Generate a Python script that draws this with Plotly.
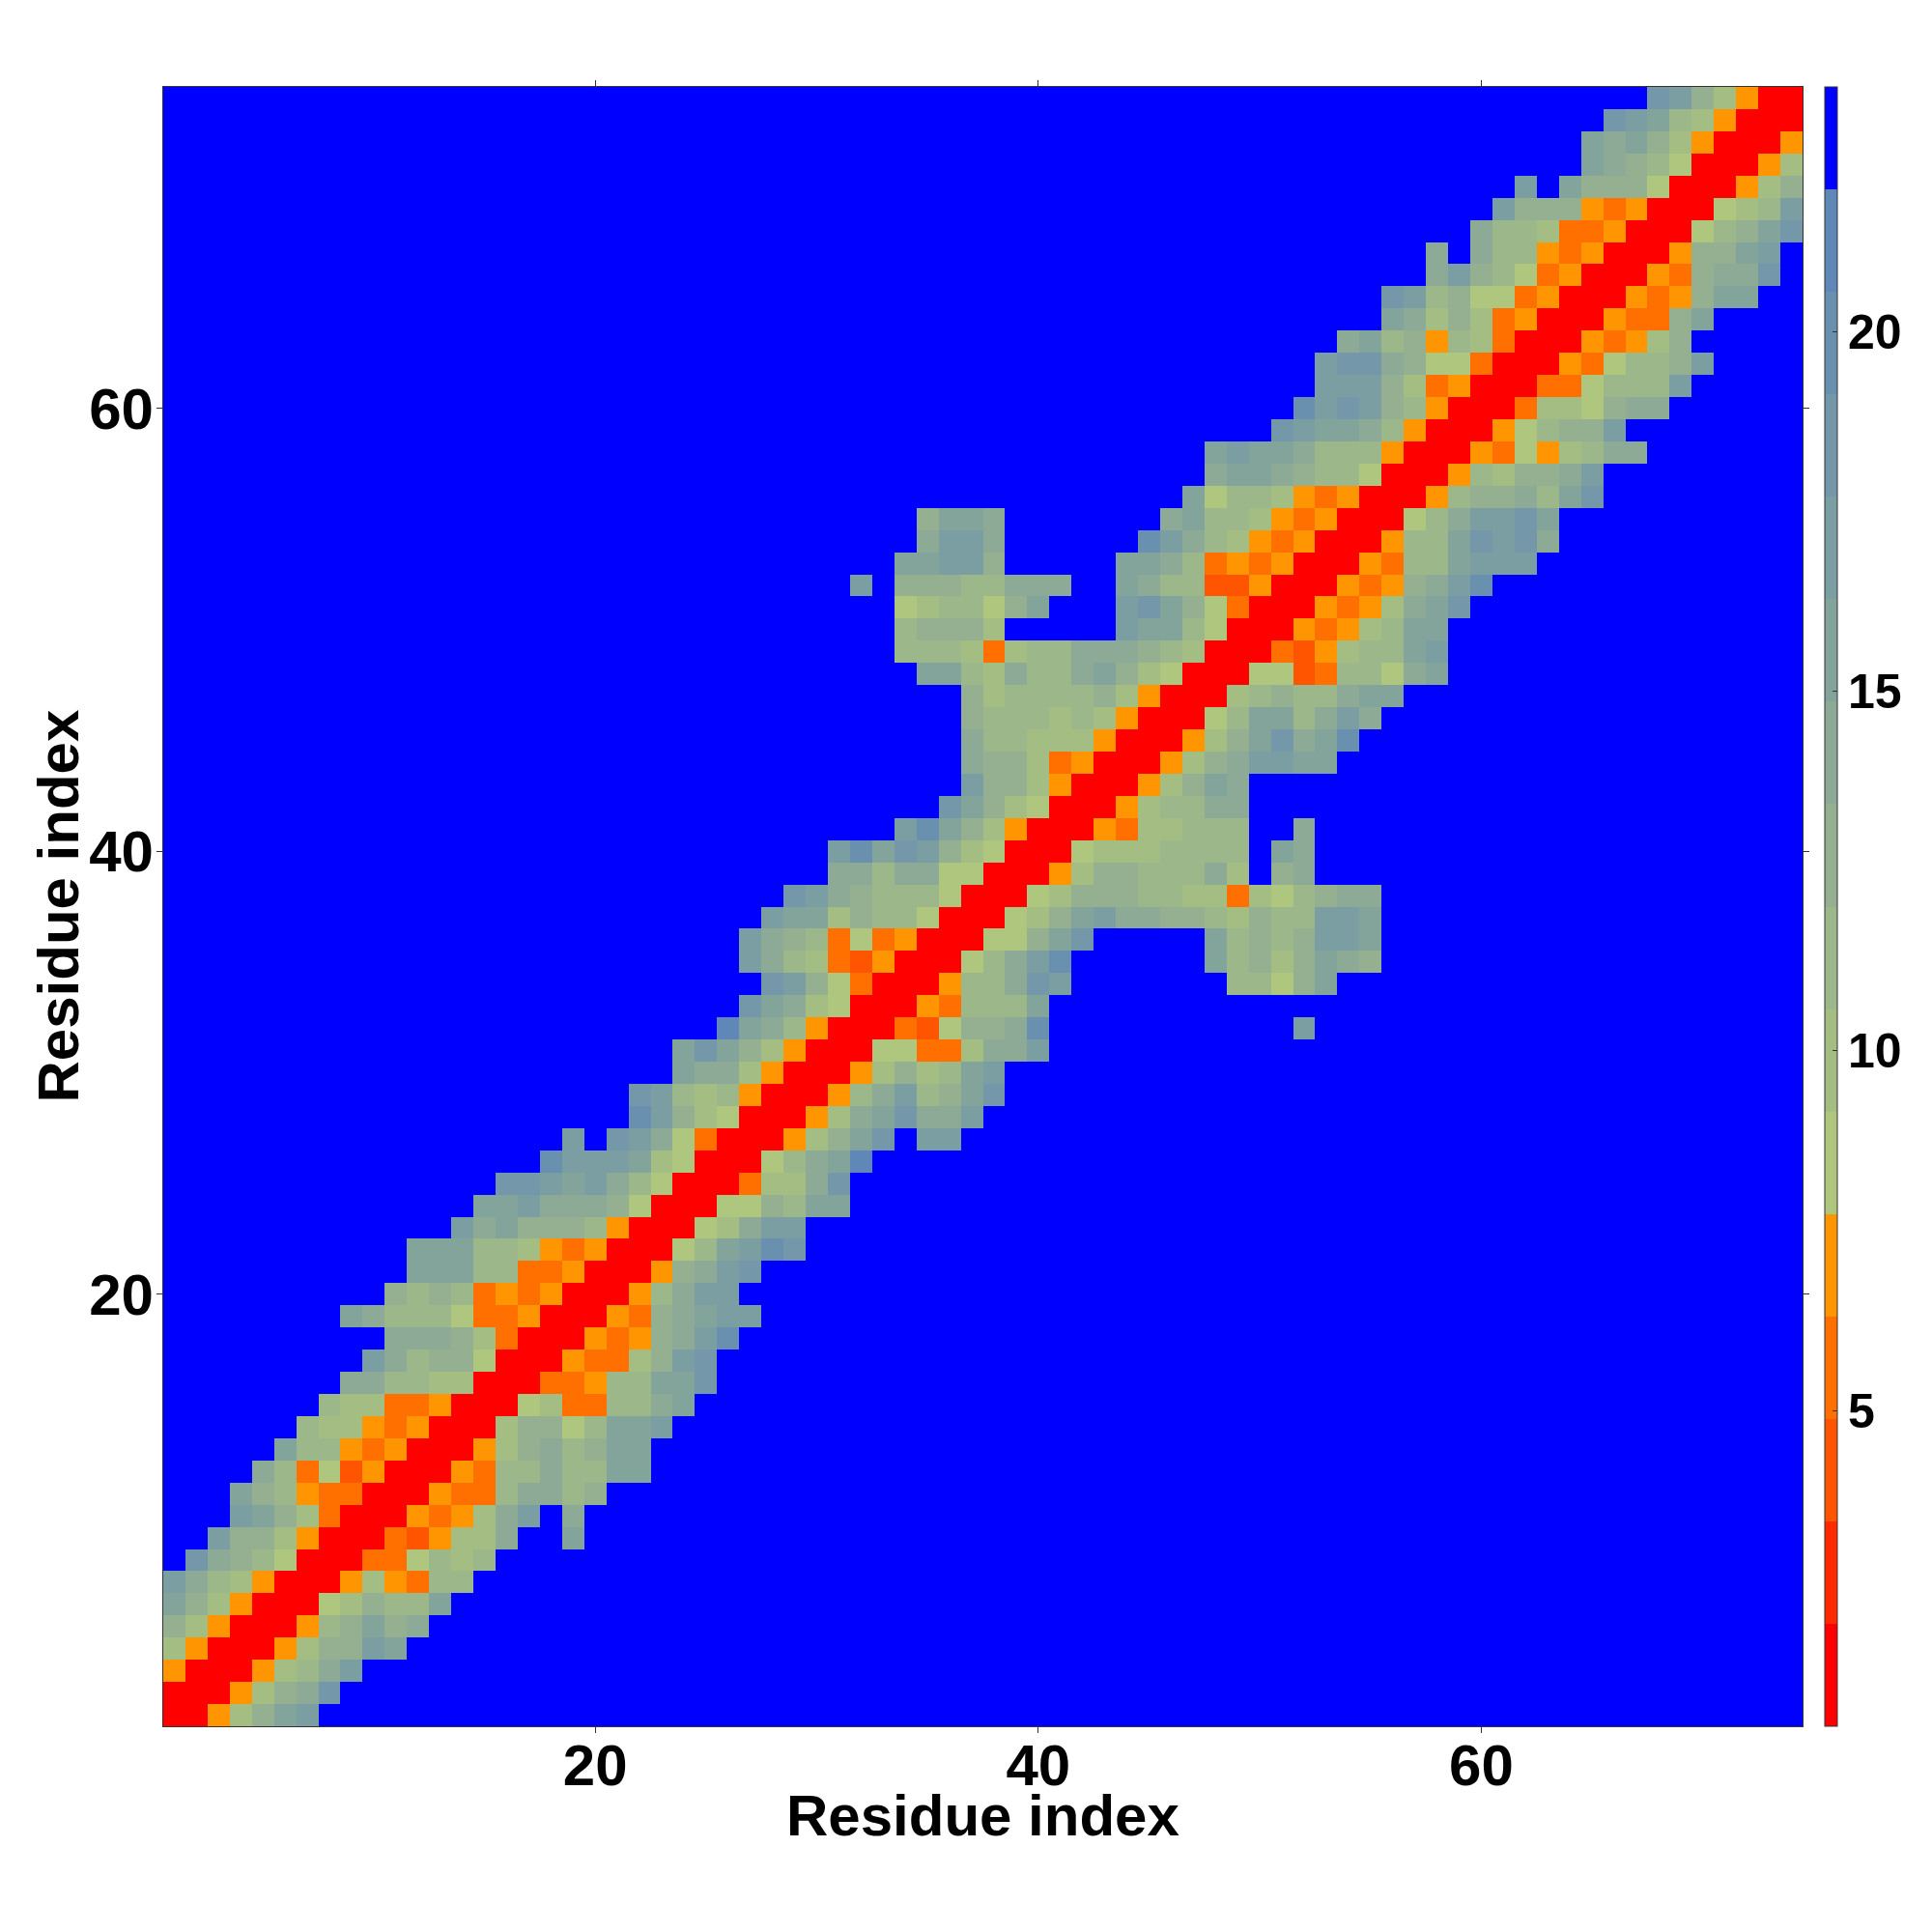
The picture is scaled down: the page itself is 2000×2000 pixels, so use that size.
import plotly.graph_objects as go

# Distance-map bins, read per residue row from the diagonal rightwards (map is symmetric).
# 0-4 = red..orange bins, a-j = green..steel-blue bins, F = top blue bin.
row_bins = [
    "004bdfg", "004bdeh", "004bceg", "004bddgf", "004cdfde", "00abdccf", "004b43cc", "0033acbc",
    "00324bbeFFf", "00434begFe", "00433ceecd", "0043ccecc" + "ff", "004bdecdff", "00bddacffg",
    "00ab33ccef", "00334ccffh", "00433bdgh", "00434degi", "0043defgg", "004cegg", "004degh",
    "00acfgih", "00abegg", "00aadcff", "003bbeh", "00acefj", "004bdfhFgg", "004befheeg",
    "004cegcdfh", "004bdbcfg", "00aa33beeg", "0032addei" + "F" * 11 + "g", "0043cccf",
    "004ccehg" + "F" * 7 + "ccadf", "00acegi" + "F" * 6 + "fcdbdfed", "00aadfh" + "F" * 5 + "fcdcdggf",
    "00abdfgeeddcbdccggf", "00abdddccbb3bacdee", "004bddccceb" + "F" + "de", "00abbbccccFfe",
    "0043bbccc" + "FF" + "e", "004bccee", "004bdfe", "004bdeggff", "004bdfhefi", "00acffcege",
    "00bcdcceff", "00aa23ccaef", "00324bccfg", "00434bcff", "00434befh", "00434degi", "0043ccfggg",
    "004ccfhghe", "00aceggh" + "f", "004cddecfh", "004cbddeg", "0043a4bcee", "004acddg", "003bbadee",
    "0033acccg", "0043accdg", "00434bd", "00433df", "00434dff", "0043deeh", "004ddfg", "00acdfh",
    "00abcg", "004bd", "004b", "004", "00", "0",
]
bin_symbols = "01234abcdefghijF"
bin_colors = ["#ff0000", "#ff2a00", "#ff5500", "#ff7000", "#ff9500",
              "#aec67d", "#a3bd82", "#9cb88a", "#94b090", "#8caa95",
              "#83a49b", "#7a9ea2", "#7497a9", "#6a90b0", "#5f88b8", "#0000ff"]
value_min = 0.61
value_max = 23.4
colorbar_ticks = [5, 10, 15, 20]
axis_ticks = [20, 40, 60]
axis_title = "Residue index"

n = 74
step = (value_max - value_min) / len(bin_symbols)
bin_value = {s: value_min + (k + 0.5) * step for k, s in enumerate(bin_symbols)}
z = [[bin_value["F"]] * n for _ in range(n)]
for i, text in enumerate(row_bins[:n]):
    for k, s in enumerate(text):
        if i + k < n:
            z[i][i + k] = bin_value[s]
            z[i + k][i] = bin_value[s]

colorscale = []
for k, c in enumerate(bin_colors):
    colorscale.append([k / len(bin_colors), c])
    colorscale.append([(k + 1) / len(bin_colors), c])

residues = list(range(1, n + 1))
fig = go.Figure(go.Heatmap(
    x=residues, y=residues, z=z, zmin=value_min, zmax=value_max, colorscale=colorscale,
    colorbar=dict(
        tickmode="array", tickvals=colorbar_ticks, ticks="inside", ticklen=5, tickwidth=1,
        tickcolor="#333333",
        tickfont=dict(family="Liberation Sans", size=50, color="black", weight="bold"),
        thickness=13, thicknessmode="pixels", len=1, lenmode="fraction", y=0, yanchor="bottom",
        x=1.0, xpad=23, xanchor="left", outlinewidth=1, outlinecolor="#333333", ypad=0,
    ),
))
tick_font = dict(family="Liberation Sans", size=60, color="black", weight="bold")
title_font = dict(family="Liberation Sans", size=60, color="black", weight="bold")
axis = dict(range=[0.5, 74.5], tickmode="array", tickvals=axis_ticks, ticks="outside", ticklen=6,
            tickwidth=1, tickcolor="#333333", showline=True, linecolor="#333333", linewidth=1,
            mirror="ticks", showgrid=False, zeroline=False, tickfont=tick_font)
fig.update_xaxes(ticklabelstandoff=-18, **axis)
fig.update_yaxes(ticklabelstandoff=-9, **axis)
fig.update_layout(
    width=2000, height=2000, paper_bgcolor="white", plot_bgcolor="white",
    margin=dict(l=161, r=142, t=82, b=221, autoexpand=False), font=dict(family="Liberation Sans"),
    annotations=[
        dict(text=axis_title, font=title_font, xref="paper", yref="paper", x=0.5, y=0,
             xanchor="center", yanchor="middle", yshift=-92, showarrow=False),
        dict(text=axis_title, font=title_font, xref="paper", yref="paper", x=0, y=0.5,
             xanchor="center", yanchor="middle", xshift=-109, textangle=-90, showarrow=False),
    ],
)
fig.write_html("out.html")
